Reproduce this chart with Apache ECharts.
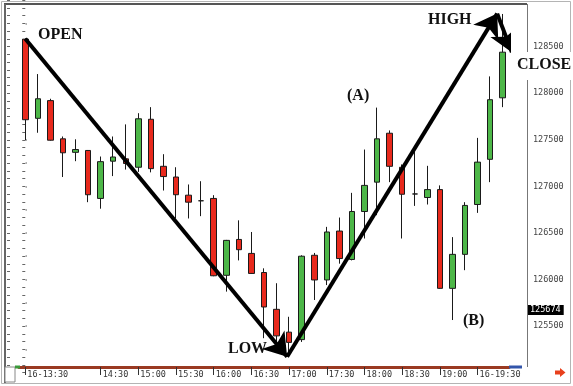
<!DOCTYPE html>
<html><head><meta charset="utf-8">
<script src="https://cdn.jsdelivr.net/npm/echarts@6/dist/echarts.min.js"></script>
<style>html,body{margin:0;padding:0;background:#fff}#c{width:573px;height:386px}</style>
</head><body><div id="c"></div>
<script>
// ---- data ----
const times = ['13:30','13:40','13:50','14:00','14:10','14:20','14:30','14:40','14:50',
  '15:00','15:10','15:20','15:30','15:40','15:50','16:00','16:10','16:20','16:30','16:40','16:50',
  '17:00','17:10','17:20','17:30','17:40','17:50','18:00','18:10','18:20','18:30','18:40','18:50',
  '19:00','19:10','19:20','19:30','19:40','19:50'];
const openVals  = [128580,127730,127920,127510,127365,127385,126870,127270,127295,127205,127720,127215,127100,126905,126845,126870,126045,126430,126280,126075,125680,125435,125355,126260,125995,126520,126215,126730,127045,127570,127205,126918,126880,126965,125905,126270,126805,127290,127950];
const closeVals = [127715,127940,127495,127360,127395,126910,127265,127315,127245,127725,127190,127105,126910,126830,126845,126040,126420,126320,126065,125705,125395,125325,126250,125995,126510,126225,126730,127010,127510,127215,126915,126918,126965,125905,126270,126795,127260,127930,128440];
const lowVals   = [127495,127575,127490,127100,127270,126830,126760,127110,127180,127155,127150,126955,126655,126655,126680,126035,125870,126205,126060,125370,125315,125200,125330,125780,125940,126170,126205,126440,126690,127045,126440,126790,126805,125900,125565,126100,126715,127045,127850];
const highVals  = [128590,128205,127940,127535,127505,127390,127320,127535,127665,127785,127850,127345,127205,127020,127055,126905,126425,126635,126510,126120,125960,125600,126260,126285,126565,126665,126930,127395,127845,127600,127235,127370,127220,127010,126455,126830,127520,128180,128850];
const labelTimes = ['13:30','14:30','15:00','15:30','16:00','16:30','17:00','17:30','18:00','18:30','19:00','19:30'];
const labelTexts = ['16-13:30','14:30','15:00','15:30','16:00','16:30','17:00','17:30','18:00','18:30','19:00','16-19:30'];
const yMin = 125000, yMax = 129000, yStep = 500;
const lastPrice = 125674;
// annotation path points [category index, price]
const pathOpen  = [0, 128585];
const pathLow   = [20.84, 125171];
const pathHigh  = [37.56, 128854];
const pathClose = [38.73, 128439];

const candles = times.map((t, i) => [openVals[i], closeVals[i], lowVals[i], highVals[i]]);
const labelMap = {};
labelTimes.forEach((t, i) => { labelMap[t] = labelTexts[i]; });
const showIdx = (idx) => labelMap[times[idx]] !== undefined;

const mono = 'DejaVu Sans Mono';
const serif = 'Liberation Serif';
const txt = (x, y, s) => ({type:'text', x, y, z:120, silent:true,
  style:{text:s, font:'bold 16px "' + serif + '"', fill:'#111', align:'left', verticalAlign:'middle'}});

const chart = echarts.init(document.getElementById('c'), null, {renderer:'canvas'});
chart.setOption({
  animation: false,
  backgroundColor: '#fff',
  grid: {left: 19, right: 64, top: -0.67, bottom: 13.33},
  xAxis: [{
    type: 'category', data: times, boundaryGap: true, offset: -5.67,
    axisLine: {show: true, lineStyle: {color: '#9A3A22', width: 3}},
    axisTick: {show: true, alignWithLabel: true, interval: (i) => showIdx(i), length: 8, lineStyle: {color: '#333', width: 1}},
    axisLabel: {interval: (i) => showIdx(i), formatter: (v) => labelMap[v], align: 'left', padding: [0,0,0,2],
      margin: 3, fontFamily: mono, fontSize: 8.5, color: '#333'},
    splitLine: {show: false}
  }, {
    type: 'value', min: -0.5, max: times.length - 0.5, show: false
  }],
  yAxis: [{
    type: 'value', position: 'right', offset: 18, min: yMin, max: yMax, interval: yStep, scale: true,
    axisLine: {show: false},
    axisTick: {show: true, inside: true, length: 3, lineStyle: {color: '#666'}},
    minorTick: {show: true, splitNumber: 6, length: 3, lineStyle: {color: '#666'}},
    axisLabel: {showMinLabel: false, showMaxLabel: false, margin: 6, fontFamily: mono, fontSize: 8.5, color: '#444',
      formatter: (v) => String(v)},
    splitLine: {show: false}
  }, {
    type: 'value', position: 'left', offset: 12, min: yMin, max: yMax, interval: 250,
    axisLine: {show: false},
    axisTick: {show: true, inside: true, length: 3, lineStyle: {color: '#666'}},
    minorTick: {show: true, splitNumber: 3, length: 3, lineStyle: {color: '#666'}},
    axisLabel: {show: false},
    splitLine: {show: true, showMinLine: false, showMaxLine: false,
      lineStyle: {color: '#999', width: 1.5, type: [0, 6.5, 1.5, 3000]}}
  }],
  series: [{
    type: 'candlestick', data: candles, xAxisIndex: 0, yAxisIndex: 0, barWidth: 6,
    itemStyle: {color: '#4DB748', color0: '#E8291C', borderColor: '#1a1a1a', borderColor0: '#1a1a1a', borderWidth: 1},
    markLine: {silent: true, symbol: 'none', data: [{yAxis: lastPrice}],
      lineStyle: {color: 'rgba(0,0,0,0)', width: 0},
      label: {show: true, position: 'end', distance: 18, formatter: String(lastPrice), backgroundColor: '#000', color: '#fff',
        padding: [1, 3, 0, 3], fontFamily: mono, fontSize: 8.5, opacity: 1}}
  }, {
    type: 'lines', coordinateSystem: 'cartesian2d', xAxisIndex: 1, yAxisIndex: 0, z: 10,
    polyline: false, silent: true,
    symbol: ['none', 'arrow'], symbolSize: 22,
    lineStyle: {color: '#000', width: 4, opacity: 1},
    data: [
      {coords: [pathOpen, pathLow]},
      {coords: [pathLow, pathHigh]},
      {coords: [pathHigh, pathClose]}
    ]
  }],
  graphic: [
    {type:'rect', z:0, silent:true, shape:{x:1.5,y:1.5,width:569,height:382}, style:{fill:'none', stroke:'#b4b4b4', lineWidth:1}},
    {type:'line', z:50, silent:true, shape:{x1:4,y1:4,x2:527,y2:4}, style:{stroke:'#555', lineWidth:2}},
    {type:'line', z:50, silent:true, shape:{x1:5,y1:4,x2:5,y2:383}, style:{stroke:'#666', lineWidth:2}},
    {type:'line', z:50, silent:true, shape:{x1:527.5,y1:4,x2:527.5,y2:367}, style:{stroke:'#777', lineWidth:1}},
    {type:'rect', z:50, silent:true, shape:{x:5,y:367,width:10,height:15}, style:{fill:'#fff', stroke:'#888', lineWidth:1}},
    {type:'line', z:50, silent:true, shape:{x1:15,y1:367,x2:20,y2:367}, style:{stroke:'#3a9a3a', lineWidth:3}},
    {type:'line', z:50, silent:true, shape:{x1:509,y1:367,x2:522,y2:367}, style:{stroke:'#3355aa', lineWidth:3}},
    {type:'polygon', z:50, silent:true, shape:{points:[[555,370.5],[560,370.5],[560,368],[565.5,372.5],[560,377],[560,374.5],[555,374.5]]}, style:{fill:'#E8401C'}},
    {type:'rect', z:110, silent:true, shape:{x:515,y:52,width:58,height:28}, style:{fill:'#fff'}},
    txt(38, 35, 'OPEN'),
    txt(428, 20, 'HIGH'),
    txt(517, 65, 'CLOSE'),
    txt(347, 96, '(A)'),
    txt(228, 349, 'LOW'),
    txt(463, 320.5, '(B)')
  ]
});
</script>
</body></html>
